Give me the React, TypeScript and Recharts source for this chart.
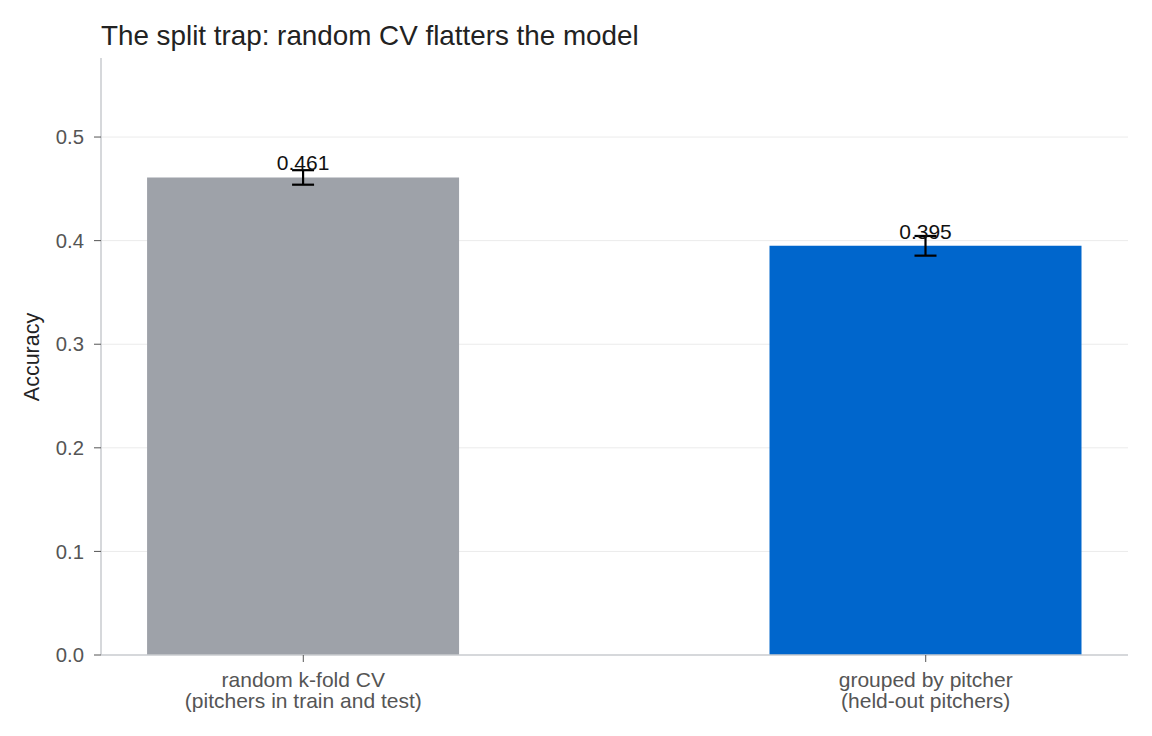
import React from 'react';
import { BarChart, Bar, XAxis, YAxis, CartesianGrid, ErrorBar, LabelList, Cell } from 'recharts';

const categoryLines = [
  ['random k-fold CV', '(pitchers in train and test)'],
  ['grouped by pitcher', '(held-out pitchers)'],
];
const positions = [0, 1];
const accuracy = [0.461, 0.395];
const accuracyErr = [0.007, 0.0095];
const barColors = ['#9ea2a9', '#0066cc'];
const yTicks = [0, 0.1, 0.2, 0.3, 0.4, 0.5];

const data = positions.map((x, i) => ({
  x,
  acc: accuracy[i],
  err: accuracyErr[i],
}));

const FONT = '"Liberation Sans", Arial, sans-serif';

function CategoryTick(props: any) {
  const { x, y, payload } = props;
  const idx = positions.indexOf(payload.value);
  const lines = categoryLines[idx] || [];
  return (
    <g>
      {lines.map((line, i) => (
        <text
          key={i}
          x={x}
          y={y + 23 + i * 21}
          textAnchor="middle"
          fill="#555"
          fontSize={21}
          fontFamily={FONT}
        >
          {line}
        </text>
      ))}
    </g>
  );
}

export default function App() {
  return (
    <div style={{ position: 'absolute', left: 0, top: 0, width: 1152, height: 736, background: '#fff' }}>
      <svg width={1152} height={60} style={{ position: 'absolute', left: 0, top: 0 }}>
        <text x={101} y={45} fontSize={27.8} fill="#222" fontFamily={FONT}>
          The split trap: random CV flatters the model
        </text>
      </svg>
      <div style={{ position: 'absolute', left: 0, top: 0 }}>
        <BarChart
          width={1152}
          height={736}
          data={data}
          margin={{ top: 58, right: 24, left: 21, bottom: 21 }}
        >
          <CartesianGrid
            vertical={false}
            stroke="#ebebeb"
            horizontalValues={yTicks.filter((t) => t > 0)}
          />
          <XAxis
            type="number"
            dataKey="x"
            domain={[-0.325, 1.325]}
            ticks={positions}
            allowDataOverflow
            height={60}
            tick={<CategoryTick />}
            tickSize={7}
            tickLine={{ stroke: '#555' }}
            axisLine={{ stroke: '#c9cbcf', strokeWidth: 1.5 }}
          />
          <YAxis
            type="number"
            domain={[0, 0.5763]}
            ticks={yTicks}
            allowDataOverflow
            width={80}
            tickFormatter={(v: number) => v.toFixed(1)}
            tick={{ fill: '#555', fontSize: 20.3, fontFamily: FONT }}
            tickSize={7}
            tickMargin={10}
            tickLine={{ stroke: '#555' }}
            axisLine={{ stroke: '#c9cbcf', strokeWidth: 1.5 }}
            label={{
              content: () => (
                <text
                  x={32}
                  y={357}
                  transform="rotate(-90 32 357)"
                  textAnchor="middle"
                  dominantBaseline="central"
                  fontSize={21.5}
                  fill="#222"
                  fontFamily={FONT}
                >
                  Accuracy
                </text>
              ),
            }}
          />
          <Bar dataKey="acc" barSize={312} isAnimationActive={false}>
            {data.map((d, i) => (
              <Cell key={i} fill={barColors[i]} />
            ))}
            <ErrorBar dataKey="err" width={11} stroke="#000" strokeWidth={2.2} />
            <LabelList
              dataKey="acc"
              position="top"
              offset={7}
              formatter={(v: any) => Number(v).toFixed(3)}
              fill="#111"
              fontSize={21}
              fontFamily={FONT}
            />
          </Bar>
        </BarChart>
      </div>
    </div>
  );
}
